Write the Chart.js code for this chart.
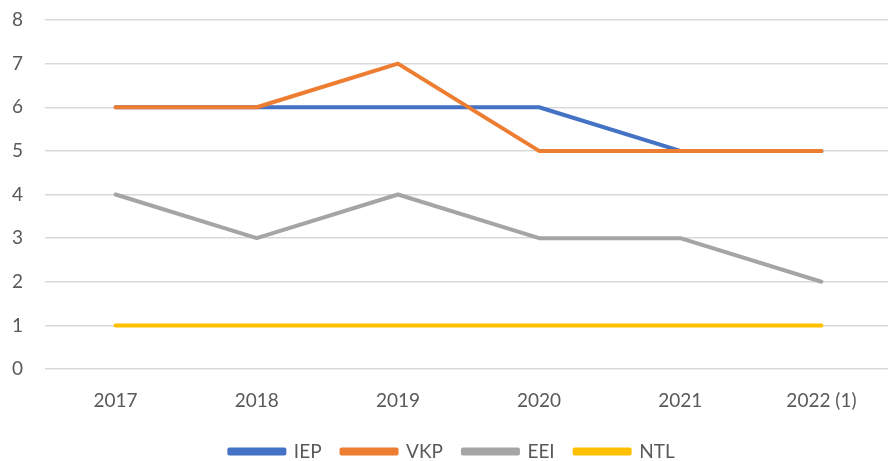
<!DOCTYPE html>
<html>
<head>
<meta charset="utf-8">
<script src="https://cdn.jsdelivr.net/npm/chart.js@4/dist/chart.umd.min.js"></script>
<style>
  body { margin: 0; background: #fff; overflow: hidden; }
  #wrap { width: 893px; height: 471px; }
</style>
</head>
<body>
<div id="wrap"><canvas id="chart"></canvas></div>
<script>
// data
const years = ["2017", "2018", "2019", "2020", "2021", "2022 (1)"]
const iep = [6, 6, 6, 6, 5, 5]
const vkp = [6, 6, 7, 5, 5, 5]
const eei = [4, 3, 4, 3, 3, 2]
const ntl = [1, 1, 1, 1, 1, 1]
const yTicks = [0, 1, 2, 3, 4, 5, 6, 7, 8]

const font = "Lato, 'Open Sans', sans-serif"
const textColor = "#595959"

function series(label, data, color, order) {
  return {
    label: label,
    data: data,
    borderColor: color,
    backgroundColor: color,
    borderWidth: 4,
    borderCapStyle: 'round',
    borderJoinStyle: 'round',
    pointRadius: 0,
    tension: 0,
    order: order
  }
}

var ctx = document.getElementById('chart').getContext('2d')
new Chart(ctx, {
  type: 'line',
  data: {
    labels: years,
    datasets: [
      series("IEP", iep, "#4472C4", 4),
      series("VKP", vkp, "#ED7D31", 3),
      series("EEI", eei, "#A5A5A5", 2),
      series("NTL", ntl, "#FFC000", 1)
    ]
  },
  options: {
    responsive: true,
    maintainAspectRatio: false,
    animation: false,
    layout: { padding: { top: 20, right: 1, bottom: 0, left: 12 } },
    scales: {
      x: {
        offset: true,
        grid: { display: false, drawTicks: false },
        border: { display: false },
        ticks: { color: textColor, font: { family: font, size: 19 }, padding: 20, maxRotation: 0 },
        afterFit: (axis) => { axis.height = 53 }
      },
      y: {
        min: 0,
        max: 8,
        afterBuildTicks: (axis) => { axis.ticks = yTicks.map(v => ({ value: v })) },
        grid: { color: "#d9d9d9", lineWidth: 1.5, drawTicks: false },
        border: { display: false },
        ticks: { color: textColor, font: { family: font, size: 19 }, padding: 0, crossAlign: 'far' },
        afterFit: (axis) => { axis.width = 33 }
      }
    },
    plugins: {
      legend: {
        position: 'bottom',
        labels: {
          color: textColor,
          font: { family: font, size: 19 },
          boxWidth: 55,
          boxHeight: 4,
          padding: 20,
          sort: (a, b) => a.datasetIndex - b.datasetIndex
        }
      },
      tooltip: { enabled: false }
    }
  }
})
</script>
</body>
</html>
